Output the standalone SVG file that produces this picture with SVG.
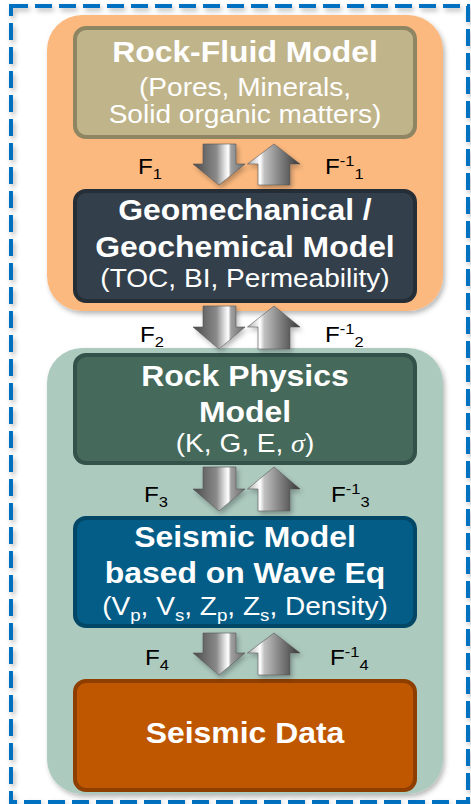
<svg xmlns="http://www.w3.org/2000/svg" width="471" height="804" viewBox="0 0 471 804">
<defs>
<filter id="sh" x="-10%" y="-10%" width="130%" height="130%">
<feDropShadow dx="2" dy="3" stdDeviation="2.5" flood-color="#000" flood-opacity="0.28"/>
</filter>
<linearGradient id="gDown" x1="0" y1="0" x2="1" y2="0">
<stop offset="0" stop-color="#4a4a4a"/>
<stop offset="0.45" stop-color="#8a8a8a"/>
<stop offset="0.62" stop-color="#e6e6e6"/>
<stop offset="0.68" stop-color="#ffffff"/>
<stop offset="0.73" stop-color="#a0a0a0"/>
<stop offset="1" stop-color="#6a6a6a"/>
</linearGradient>
<linearGradient id="gUp" x1="0" y1="0" x2="1" y2="0">
<stop offset="0" stop-color="#b0b0b0"/>
<stop offset="0.24" stop-color="#ffffff"/>
<stop offset="0.32" stop-color="#c0c0c0"/>
<stop offset="0.6" stop-color="#858585"/>
<stop offset="1" stop-color="#363636"/>
</linearGradient>
<style>
.frame{fill:none;stroke:#0070C0;stroke-width:4;stroke-dasharray:17 7}
.box{stroke-width:4}
.tb{font-family:"Liberation Sans",Arial,sans-serif;font-weight:bold;font-size:29px;fill:#fff;text-anchor:middle}
.tr{font-family:"Liberation Sans",Arial,sans-serif;font-size:25.5px;fill:#fff;text-anchor:middle}
.fl{font-family:"Liberation Sans",Arial,sans-serif;font-size:22px;fill:#000}
.sm{font-size:15px}
.ss{font-size:17px}
.dn{fill:url(#gDown);stroke:#555;stroke-width:0.6}
.up{fill:url(#gUp);stroke:#555;stroke-width:0.6}
</style>
</defs>
<rect width="471" height="804" fill="#fff"/>
<rect class="frame" x="11" y="6" width="457" height="796" filter="url(#sh)"/>

<g id="bg-upper"><rect x="47" y="15" width="396" height="296" rx="35" fill="#FCB97F" filter="url(#sh)"/></g>
<g id="bg-lower"><rect x="47" y="348" width="396" height="446" rx="35" fill="#ADCABF" filter="url(#sh)"/></g>

<g id="rock-fluid">
<rect class="box" x="75" y="28" width="340" height="109" rx="11" fill="#C0B48A" stroke="#8E8562"/>
<text class="tb" transform="translate(245 62) scale(1.1 1)">Rock-Fluid Model</text>
<text class="tr" transform="translate(245 95.5) scale(1.1 1)">(Pores, Minerals,</text>
<text class="tr" transform="translate(245 123) scale(1.1 1)">Solid organic matters)</text>
</g>

<g id="geomechanical">
<rect class="box" x="75" y="191" width="340" height="110" rx="11" fill="#333F4B" stroke="#252D36"/>
<text class="tb" transform="translate(245 220) scale(1.1 1)">Geomechanical /</text>
<text class="tb" transform="translate(245 256.5) scale(1.1 1)">Geochemical Model</text>
<text class="tr" transform="translate(245 287) scale(1.1 1)">(TOC, BI, Permeability)</text>
</g>

<g id="rock-physics">
<rect class="box" x="75" y="355" width="340" height="108" rx="11" fill="#45695A" stroke="#34524A"/>
<text class="tb" transform="translate(245 386) scale(1.1 1)">Rock Physics</text>
<text class="tb" transform="translate(245 421.5) scale(1.1 1)">Model</text>
<text class="tr" transform="translate(245 452) scale(1.1 1)">(K, G, E, <tspan font-family="'Liberation Serif',serif" font-style="italic">σ</tspan>)</text>
</g>

<g id="seismic-model">
<rect class="box" x="75" y="518" width="340" height="108" rx="11" fill="#035D87" stroke="#024766"/>
<text class="tb" transform="translate(245 547) scale(1.1 1)">Seismic Model</text>
<text class="tb" transform="translate(245 583) scale(1.1 1)">based on Wave Eq</text>
<text class="tr" transform="translate(245 615) scale(1.1 1)">(V<tspan class="ss" dy="6">p</tspan><tspan dy="-6">, V</tspan><tspan class="ss" dy="6">s</tspan><tspan dy="-6">, Z</tspan><tspan class="ss" dy="6">p</tspan><tspan dy="-6">, Z</tspan><tspan class="ss" dy="6">s</tspan><tspan dy="-6">, Density)</tspan></text>
</g>

<g id="seismic-data">
<rect class="box" x="75" y="681" width="340" height="109" rx="11" fill="#BF5700" stroke="#8E3F00"/>
<text class="tb" transform="translate(245 743) scale(1.1 1)">Seismic Data</text>
</g>

<g id="connectors">
<g id="f1" filter="url(#sh)">
<polygon class="dn" points="203,144 236,144 236,164 245,164 219,185 193,164 203,164"/>
<polygon class="up" points="258,185 290,185 290,164 300,164 274,144 247.5,164 258,164"/>
</g>
<g id="f2" filter="url(#sh)">
<polygon class="dn" points="203,306 236,306 236,327 245,327 219,349 193,327 203,327"/>
<polygon class="up" points="258,349 290,349 290,327 300,327 274,306 247.5,327 258,327"/>
</g>
<g id="f3" filter="url(#sh)">
<polygon class="dn" points="203,467 236,467 236,489 245,489 219,511 193,489 203,489"/>
<polygon class="up" points="258,511 290,511 290,489 300,489 274,467 247.5,489 258,489"/>
</g>
<g id="f4" filter="url(#sh)">
<polygon class="dn" points="203,633 236,633 236,653 245,653 219,675 193,653 203,653"/>
<polygon class="up" points="258,675 290,675 290,653 300,653 274,633 247.5,653 258,653"/>
</g>
<text class="fl" transform="translate(138 174) scale(1.1 1)">F<tspan class="sm" dy="5">1</tspan></text>
<text class="fl" transform="translate(325 174) scale(1.1 1)">F<tspan class="sm" dy="-8">-1</tspan><tspan class="sm" dy="13">1</tspan></text>
<text class="fl" transform="translate(140 342) scale(1.1 1)">F<tspan class="sm" dy="5">2</tspan></text>
<text class="fl" transform="translate(325 342) scale(1.1 1)">F<tspan class="sm" dy="-8">-1</tspan><tspan class="sm" dy="13">2</tspan></text>
<text class="fl" transform="translate(144 502) scale(1.1 1)">F<tspan class="sm" dy="5">3</tspan></text>
<text class="fl" transform="translate(331 502) scale(1.1 1)">F<tspan class="sm" dy="-8">-1</tspan><tspan class="sm" dy="13">3</tspan></text>
<text class="fl" transform="translate(145 665) scale(1.1 1)">F<tspan class="sm" dy="5">4</tspan></text>
<text class="fl" transform="translate(330 665) scale(1.1 1)">F<tspan class="sm" dy="-8">-1</tspan><tspan class="sm" dy="13">4</tspan></text>
</g>
</svg>
